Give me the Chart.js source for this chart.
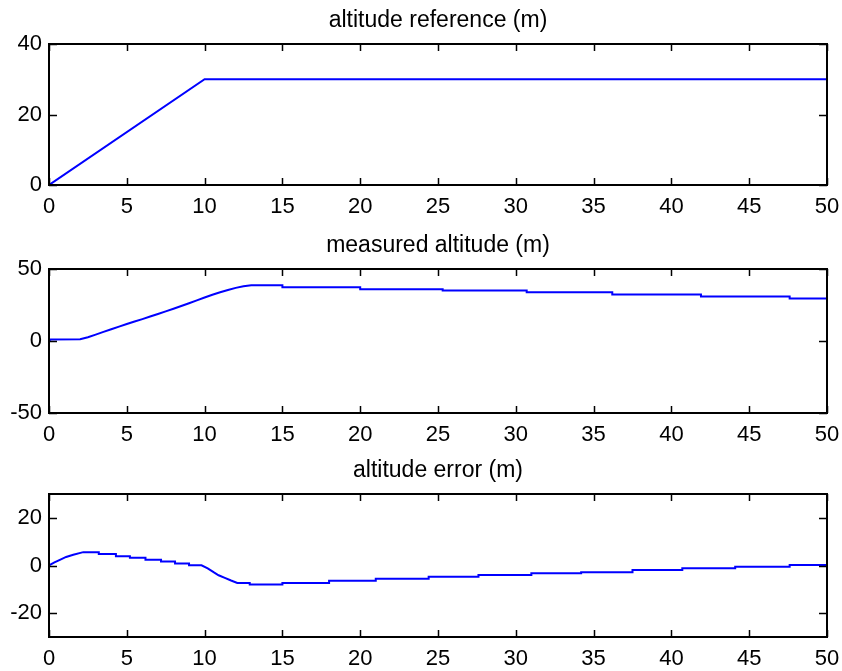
<!DOCTYPE html>
<html>
<head>
<meta charset="utf-8">
<script src="https://cdn.jsdelivr.net/npm/chart.js@4.4.1/dist/chart.umd.min.js"></script>
<style>
  html, body { margin: 0; padding: 0; background: #fff; overflow: hidden; }
  #wrap { position: relative; width: 842px; height: 671px; }
  .panel { position: absolute; left: 0; width: 842px; }
</style>
</head>
<body>
<div id="wrap">
  <div class="panel" style="top:0;height:225px"><canvas id="refChart"></canvas></div>
  <div class="panel" style="top:225px;height:225px"><canvas id="measChart"></canvas></div>
  <div class="panel" style="top:450px;height:221px"><canvas id="errChart"></canvas></div>
</div>
<script>
'use strict'

// time axis ticks (s)
var xTicks = [0, 5, 10, 15, 20, 25, 30, 35, 40, 45, 50];

// altitude reference
var refTime = [0, 10, 50];
var refAlt = [0, 30, 30];
var refTicks = [0, 20, 40];

// measured altitude
var measTime = [0, 0.1, 2, 2.5, 3, 3.5, 4, 4.5, 5, 5.5, 6, 6.5, 7, 7.5, 8, 8.5, 9, 9.5, 10,
    10.5, 11, 11.5, 12, 12.5, 13, 15, 15, 20, 20, 25.3, 25.3, 30.7, 30.7, 36.2, 36.2,
    41.9, 41.9, 47.6, 47.6, 50];
var measAlt = [0, 1, 1.2, 2.6, 4.4, 6.3, 8.2, 10, 11.8, 13.5, 15.2, 17, 18.8, 20.6, 22.4, 24.3, 26.2, 28.2, 30.2,
    32.1, 33.8, 35.4, 36.9, 38, 38.7, 38.7, 37.4, 37.4, 36, 36, 35.1, 35.1, 33.9, 33.9, 32.3,
    32.3, 30.9, 30.9, 29.5, 29.5];
var measTicks = [-50, 0, 50];

// altitude error
var errTime = [0, 0.35, 0.7, 1.1, 1.56, 2.2, 3.2, 3.2, 4.3, 4.3, 5.2, 5.2, 6.2, 6.2, 7.2, 7.2, 8.1, 8.1, 9, 9,
    9.8, 10.2, 10.6, 10.9, 11.3, 11.7, 12.1, 12.9, 12.9, 15, 15, 18, 18, 21, 21, 24.4, 24.4,
    27.6, 27.6, 31, 31, 34.2, 34.2, 37.5, 37.5, 40.7, 40.7, 44.1, 44.1, 47.6, 47.6, 50];
var errVal = [0, 1.3, 2.4, 3.6, 4.5, 5.6, 5.6, 4.8, 4.8, 3.9, 3.9, 3.2, 3.2, 2.4, 2.4, 1.7, 1.7, 0.8, 0.8, 0.1,
    0.1, -1.2, -2.9, -4.1, -5.2, -6.3, -7.3, -7.3, -8, -8, -7.3, -7.3, -6.4, -6.4, -5.6, -5.6, -4.7,
    -4.7, -4, -4, -3.3, -3.3, -2.8, -2.8, -1.9, -1.9, -1.2, -1.2, -0.5, -0.5, 0.2, 0.2];
var errTicks = [-20, 0, 20];

Chart.defaults.font.family = "'Liberation Sans', Arial, sans-serif";
Chart.defaults.font.size = 22;
Chart.defaults.color = '#000';

// axes box with ticks pointing inwards on all four sides
var boxTicks = {
    id: 'boxTicks',
    afterDraw: function (chart) {
        var ctx = chart.ctx, a = chart.chartArea;
        var x = chart.scales.x, y = chart.scales.y;
        ctx.save();
        ctx.strokeStyle = '#000';
        ctx.lineWidth = 1.5;
        ctx.beginPath();
        x.ticks.forEach(function (t) {
            var px = Math.round(x.getPixelForValue(t.value)) + 0.5;
            ctx.moveTo(px, a.bottom); ctx.lineTo(px, a.bottom - 7);
            ctx.moveTo(px, a.top); ctx.lineTo(px, a.top + 7);
        });
        y.ticks.forEach(function (t) {
            var py = Math.round(y.getPixelForValue(t.value)) + 0.5;
            ctx.moveTo(a.left, py); ctx.lineTo(a.left + 8, py);
            ctx.moveTo(a.right, py); ctx.lineTo(a.right - 8, py);
        });
        ctx.stroke();
        ctx.lineWidth = 2;
        ctx.strokeRect(a.left, a.top, a.right - a.left, a.bottom - a.top);
        ctx.restore();
    }
};

function makePanel(id, title, xs, ys, yMin, yMax, yTicks, xAxisH) {
    var points = xs.map(function (t, i) { return { x: t, y: ys[i] }; });
    return new Chart(document.getElementById(id), {
        type: 'line',
        data: {
            datasets: [{
                data: points,
                borderColor: '#0000ff',
                borderWidth: 2,
                pointRadius: 0,
                tension: 0,
                fill: false
            }]
        },
        options: {
            responsive: true,
            maintainAspectRatio: false,
            animation: false,
            layout: { padding: { left: 0, right: 15, top: 0, bottom: 0 } },
            plugins: {
                legend: { display: false },
                tooltip: { enabled: false },
                title: {
                    display: true,
                    text: title,
                    fullSize: false,
                    color: '#000',
                    font: { size: 23, weight: 'normal' },
                    padding: { top: 7, bottom: 9.4 }
                }
            },
            scales: {
                x: {
                    type: 'linear',
                    min: 0,
                    max: 50,
                    grid: { display: false, drawTicks: false },
                    border: { display: false },
                    afterBuildTicks: function (s) { s.ticks = xTicks.map(function (v) { return { value: v }; }); },
                    afterFit: function (s) { s.height = xAxisH; s.paddingLeft = 0; s.paddingRight = 0; },
                    ticks: { padding: 9, maxRotation: 0, autoSkip: false }
                },
                y: {
                    type: 'linear',
                    min: yMin,
                    max: yMax,
                    grid: { display: false, drawTicks: false },
                    border: { display: false },
                    afterBuildTicks: function (s) { s.ticks = yTicks.map(function (v) { return { value: v }; }); },
                    afterFit: function (s) { s.width = 49; s.paddingTop = 0; s.paddingBottom = 0; },
                    ticks: { padding: 7 }
                }
            }
        },
        plugins: [boxTicks]
    });
}

makePanel('refChart', 'altitude reference (m)', refTime, refAlt, 0, 40, refTicks, 40);
makePanel('measChart', 'measured altitude (m)', measTime, measAlt, -50, 50, measTicks, 37);
makePanel('errChart', 'altitude error (m)', errTime, errVal, -30, 30, errTicks, 34);
</script>
</body>
</html>
